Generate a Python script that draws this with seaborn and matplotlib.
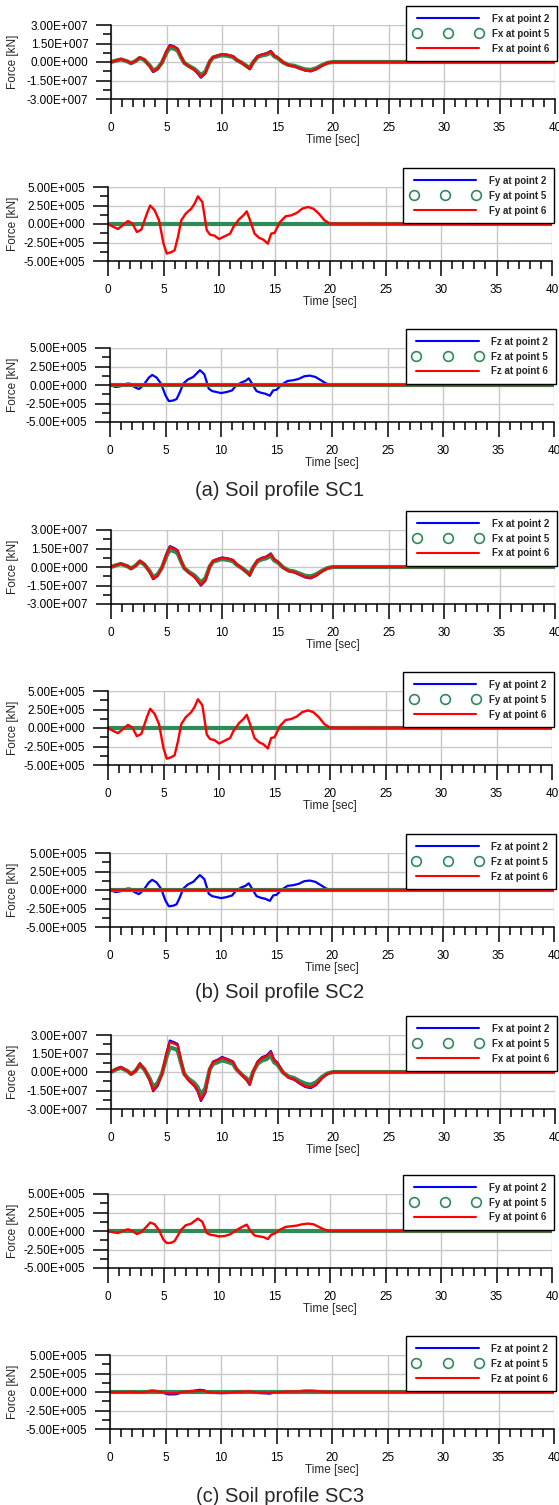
import matplotlib
matplotlib.use("Agg")
import matplotlib.pyplot as plt
import seaborn as sns
from matplotlib.ticker import MultipleLocator, FuncFormatter
from matplotlib.lines import Line2D
import numpy as np

# ---------------- data ----------------
T = [0.0, 0.5, 0.9, 1.5, 1.8, 2.2, 2.6, 3.0, 3.5, 3.8, 4.2, 4.6, 5.0, 5.3, 5.7,
     6.0, 6.3, 6.6, 7.0, 7.5, 7.8, 8.1, 8.5, 8.9, 9.2, 9.6, 10.0, 10.5, 11.0,
     11.3, 11.8, 12.2, 12.5, 12.8, 13.2, 13.6, 14.0, 14.4, 14.7, 15.0, 15.5,
     16.0, 16.5, 17.0, 17.5, 18.0, 18.5, 19.0, 19.5, 20.0, 40.0]

# Fx in units of 1e7 kN
FX_SC1_P2 = [0.00, 0.14, 0.25, 0.05, -0.12, 0.08, 0.39, 0.19, -0.36, -0.82, -0.59, -0.03, 0.90, 1.38, 1.26, 1.09, 0.47, -0.08, -0.36, -0.65, -0.93, -1.27, -0.93, 0.05, 0.42, 0.54, 0.64, 0.59, 0.47, 0.19, -0.08, -0.36, -0.59, -0.03, 0.47, 0.62, 0.70, 0.90, 0.54, 0.39, -0.03, -0.28, -0.36, -0.54, -0.70, -0.76, -0.59, -0.31, -0.08, 0.00, 0.00]
FX_SC1_P5 = [0.00, 0.12, 0.21, 0.04, -0.10, 0.07, 0.33, 0.17, -0.30, -0.69, -0.50, -0.03, 0.76, 1.15, 1.07, 0.93, 0.40, -0.07, -0.31, -0.55, -0.79, -1.06, -0.79, 0.04, 0.36, 0.46, 0.55, 0.50, 0.40, 0.17, -0.07, -0.31, -0.50, -0.03, 0.40, 0.53, 0.60, 0.77, 0.46, 0.33, -0.03, -0.24, -0.31, -0.46, -0.60, -0.64, -0.50, -0.26, -0.07, 0.00, 0.00]
FX_SC1_P6 = [0.00, 0.14, 0.24, 0.05, -0.11, 0.08, 0.38, 0.19, -0.35, -0.79, -0.57, -0.03, 0.87, 1.33, 1.22, 1.06, 0.46, -0.08, -0.35, -0.63, -0.90, -1.22, -0.90, 0.05, 0.41, 0.52, 0.62, 0.57, 0.46, 0.19, -0.08, -0.35, -0.57, -0.03, 0.46, 0.60, 0.68, 0.87, 0.52, 0.38, -0.03, -0.27, -0.35, -0.52, -0.68, -0.73, -0.57, -0.30, -0.08, 0.00, 0.00]

FX_SC2_P2 = [0.00, 0.18, 0.29, 0.06, -0.15, 0.10, 0.52, 0.25, -0.44, -0.99, -0.73, -0.04, 1.09, 1.69, 1.54, 1.35, 0.57, -0.10, -0.47, -0.81, -1.14, -1.51, -1.12, 0.06, 0.52, 0.66, 0.77, 0.71, 0.57, 0.24, -0.10, -0.44, -0.71, -0.04, 0.57, 0.75, 0.85, 1.10, 0.64, 0.47, -0.04, -0.34, -0.44, -0.64, -0.85, -0.92, -0.71, -0.37, -0.10, 0.00, 0.00]
FX_SC2_P5 = [0.00, 0.15, 0.24, 0.05, -0.12, 0.09, 0.43, 0.21, -0.36, -0.82, -0.60, -0.03, 0.90, 1.38, 1.27, 1.12, 0.47, -0.09, -0.39, -0.67, -0.95, -1.24, -0.93, 0.05, 0.43, 0.54, 0.64, 0.58, 0.47, 0.20, -0.09, -0.36, -0.58, -0.03, 0.47, 0.62, 0.71, 0.91, 0.53, 0.39, -0.03, -0.28, -0.36, -0.53, -0.71, -0.76, -0.58, -0.31, -0.09, 0.00, 0.00]
FX_SC2_P6 = [0.00, 0.17, 0.28, 0.06, -0.14, 0.10, 0.50, 0.24, -0.42, -0.95, -0.70, -0.04, 1.05, 1.62, 1.48, 1.30, 0.55, -0.10, -0.45, -0.78, -1.10, -1.45, -1.08, 0.06, 0.50, 0.63, 0.74, 0.68, 0.55, 0.23, -0.10, -0.42, -0.68, -0.04, 0.55, 0.72, 0.82, 1.06, 0.62, 0.45, -0.04, -0.33, -0.42, -0.62, -0.82, -0.88, -0.68, -0.36, -0.10, 0.00, 0.00]

FX_SC3_P2 = [0.00, 0.28, 0.42, 0.08, -0.20, 0.08, 0.71, 0.28, -0.71, -1.56, -1.13, -0.15, 1.56, 2.55, 2.41, 2.27, 1.00, -0.20, -0.71, -1.13, -1.56, -2.35, -1.70, 0.28, 0.85, 1.00, 1.22, 1.05, 0.85, 0.28, -0.28, -0.65, -1.05, 0.00, 0.85, 1.20, 1.33, 1.70, 1.00, 0.77, -0.05, -0.47, -0.63, -0.95, -1.21, -1.31, -1.05, -0.52, -0.16, 0.00, 0.00]
FX_SC3_P5 = [0.00, 0.22, 0.33, 0.07, -0.16, 0.07, 0.56, 0.22, -0.56, -1.22, -0.89, -0.11, 1.22, 1.99, 1.89, 1.77, 0.78, -0.16, -0.56, -0.89, -1.22, -1.84, -1.33, 0.22, 0.66, 0.78, 0.95, 0.82, 0.66, 0.22, -0.22, -0.51, -0.82, 0.00, 0.66, 0.93, 1.04, 1.33, 0.78, 0.60, -0.04, -0.37, -0.49, -0.74, -0.94, -1.03, -0.82, -0.41, -0.12, 0.00, 0.00]
FX_SC3_P6 = [0.00, 0.27, 0.40, 0.08, -0.19, 0.08, 0.68, 0.27, -0.68, -1.49, -1.08, -0.14, 1.49, 2.43, 2.30, 2.16, 0.95, -0.19, -0.68, -1.08, -1.49, -2.24, -1.62, 0.27, 0.81, 0.95, 1.16, 1.00, 0.81, 0.27, -0.27, -0.62, -1.00, 0.00, 0.81, 1.14, 1.27, 1.62, 0.95, 0.73, -0.05, -0.45, -0.60, -0.90, -1.15, -1.25, -1.00, -0.50, -0.15, 0.00, 0.00]

# Fy in units of 1e5 kN
FY_SC1_P2 = [0.0] * len(T)
FY_SC1_P5 = [0.0] * len(T)
FY_SC1_P6 = [0.00, -0.40, -0.68, 0.05, 0.40, 0.05, -1.08, -0.77, 1.40, 2.50, 1.85, 0.50, -2.66, -4.00, -3.80, -3.56, -1.76, 0.50, 1.40, 2.07, 2.75, 3.74, 2.97, -0.86, -1.44, -1.58, -2.03, -1.67, -1.30, -0.40, 0.63, 1.17, 1.71, 0.50, -1.30, -1.85, -2.12, -2.66, -1.30, -1.21, 0.27, 1.04, 1.17, 1.49, 2.07, 2.30, 2.07, 1.40, 0.50, 0.05, 0.00]

FY_SC2_P2 = [0.0] * len(T)
FY_SC2_P5 = [0.0] * len(T)
FY_SC2_P6 = [0.00, -0.42, -0.70, 0.05, 0.42, 0.05, -1.12, -0.80, 1.45, 2.60, 1.92, 0.52, -2.75, -4.15, -3.95, -3.68, -1.82, 0.52, 1.45, 2.14, 2.85, 3.88, 3.08, -0.89, -1.49, -1.64, -2.10, -1.73, -1.35, -0.41, 0.65, 1.21, 1.78, 0.52, -1.35, -1.92, -2.20, -2.76, -1.35, -1.25, 0.28, 1.08, 1.21, 1.55, 2.14, 2.38, 2.14, 1.45, 0.52, 0.05, 0.00]

FY_SC3_P2 = [0.0] * len(T)
FY_SC3_P5 = [0.0] * len(T)
FY_SC3_P6 = [0.00, -0.18, -0.27, 0.09, 0.23, 0.00, -0.41, -0.14, 0.64, 1.14, 0.91, 0.09, -1.18, -1.64, -1.59, -1.36, -0.59, 0.18, 0.77, 1.00, 1.36, 1.68, 1.23, -0.27, -0.50, -0.59, -0.73, -0.68, -0.45, -0.14, 0.32, 0.64, 0.86, 0.09, -0.59, -0.73, -0.82, -1.09, -0.50, -0.36, 0.18, 0.55, 0.64, 0.73, 0.91, 1.00, 0.91, 0.55, 0.18, 0.00, 0.00]

# Fz in units of 1e5 kN
FZ_SC1_P2 = [0.00, -0.27, -0.18, 0.18, 0.18, -0.27, -0.55, -0.05, 1.00, 1.36, 1.00, 0.18, -1.41, -2.18, -2.09, -1.90, -0.95, 0.18, 0.73, 1.09, 1.55, 2.00, 1.45, -0.50, -0.82, -0.95, -1.09, -0.95, -0.73, -0.18, 0.32, 0.55, 0.90, 0.18, -0.82, -1.05, -1.18, -1.45, -0.73, -0.64, 0.09, 0.55, 0.64, 0.82, 1.18, 1.27, 1.09, 0.64, 0.18, 0.00, 0.00]
FZ_SC1_P5 = [0.0] * len(T)
FZ_SC1_P6 = [0.0] * len(T)

FZ_SC2_P2 = [0.00, -0.28, -0.19, 0.18, 0.19, -0.28, -0.56, -0.05, 1.02, 1.38, 1.02, 0.18, -1.44, -2.20, -2.12, -1.93, -0.96, 0.18, 0.74, 1.10, 1.57, 2.02, 1.47, -0.51, -0.83, -0.96, -1.10, -0.96, -0.74, -0.18, 0.33, 0.56, 0.91, 0.18, -0.83, -1.06, -1.19, -1.47, -0.74, -0.65, 0.09, 0.56, 0.65, 0.83, 1.19, 1.28, 1.10, 0.65, 0.18, 0.00, 0.00]
FZ_SC2_P5 = [0.0] * len(T)
FZ_SC2_P6 = [0.0] * len(T)

FZ_SC3_P2 = [0.00, -0.04, -0.03, 0.03, 0.03, -0.04, -0.08, -0.01, 0.15, 0.20, 0.15, 0.03, -0.21, -0.33, -0.32, -0.29, -0.14, 0.03, 0.11, 0.16, 0.23, 0.30, 0.22, -0.08, -0.12, -0.14, -0.16, -0.14, -0.11, -0.03, 0.05, 0.08, 0.14, 0.03, -0.12, -0.16, -0.18, -0.22, -0.11, -0.10, 0.01, 0.08, 0.10, 0.12, 0.18, 0.19, 0.16, 0.10, 0.03, 0.00, 0.00]
FZ_SC3_P5 = [0.0] * len(T)
FZ_SC3_P6 = [0.00, -0.02, -0.03, 0.00, 0.02, 0.00, -0.05, -0.02, 0.07, 0.12, 0.09, 0.02, -0.13, -0.18, -0.17, -0.16, -0.08, 0.02, 0.07, 0.10, 0.14, 0.19, 0.15, -0.04, -0.07, -0.08, -0.10, -0.08, -0.06, -0.02, 0.03, 0.06, 0.08, 0.02, -0.06, -0.09, -0.10, -0.13, -0.06, -0.06, 0.01, 0.05, 0.06, 0.07, 0.10, 0.11, 0.10, 0.07, 0.02, 0.00, 0.00]

COMPONENTS = ["Fx", "Fy", "Fz", "Fx", "Fy", "Fz", "Fx", "Fy", "Fz"]
SERIES = [
    (FX_SC1_P2, FX_SC1_P5, FX_SC1_P6), (FY_SC1_P2, FY_SC1_P5, FY_SC1_P6), (FZ_SC1_P2, FZ_SC1_P5, FZ_SC1_P6),
    (FX_SC2_P2, FX_SC2_P5, FX_SC2_P6), (FY_SC2_P2, FY_SC2_P5, FY_SC2_P6), (FZ_SC2_P2, FZ_SC2_P5, FZ_SC2_P6),
    (FX_SC3_P2, FX_SC3_P5, FX_SC3_P6), (FY_SC3_P2, FY_SC3_P5, FY_SC3_P6), (FZ_SC3_P2, FZ_SC3_P5, FZ_SC3_P6),
]
UNIT = {"Fx": 1e7, "Fy": 1e5, "Fz": 1e5}
YLIM = {"Fx": 3e7, "Fy": 5e5, "Fz": 5e5}
POINTS = ["2", "5", "6"]
CAPTIONS = ["(a) Soil profile SC1", "(b) Soil profile SC2", "(c) Soil profile SC3"]

# ---------------- layout / style ----------------
W, H = 559, 1505
TOPS = [25, 187, 348, 530, 691, 853, 1035, 1194, 1355]
LEFTS = [111, 108, 110, 111, 108, 110, 111, 108, 110]
AX_W, AX_H = 444, 74
CAP_Y = [490, 992, 1496]
BLUE, GREEN, RED = "#0000FF", "#2E8B57", "#FF0000"

sns.set_style("white")
plt.rcParams["font.family"] = ["Liberation Sans", "DejaVu Sans"]


def sci_fmt(v, pos):
    if abs(v) < 1e-9:
        return "0.00E+000"
    e = int(np.floor(np.log10(abs(v)) + 1e-9))
    m = v / 10 ** e
    return f"{m:.2f}E{'+' if e >= 0 else '-'}{abs(e):03d}"


fig = plt.figure(figsize=(W / 100, H / 100), dpi=100)

for i, (comp, (s2, s5, s6)) in enumerate(zip(COMPONENTS, SERIES)):
    left, top = LEFTS[i], TOPS[i]
    ax = fig.add_axes([left / W, 1 - (top + AX_H) / H, AX_W / W, AX_H / H])
    u = UNIT[comp]
    sns.lineplot(x=T, y=[v * u for v in s2], ax=ax, color=BLUE, lw=1.6,
                 estimator=None, sort=False, legend=False)
    sns.lineplot(x=T, y=[v * u for v in s5], ax=ax, color=GREEN, lw=3.0,
                 estimator=None, sort=False, legend=False)
    sns.lineplot(x=T, y=[v * u for v in s6], ax=ax, color=RED, lw=1.7,
                 estimator=None, sort=False, legend=False)

    lim = YLIM[comp]
    ax.set_xlim(0, 40)
    ax.set_ylim(-lim, lim)
    ax.xaxis.set_major_locator(MultipleLocator(5))
    ax.xaxis.set_minor_locator(MultipleLocator(1))
    ax.yaxis.set_major_locator(MultipleLocator(lim / 2))
    ax.yaxis.set_minor_locator(MultipleLocator(lim / 4))
    ax.yaxis.set_major_formatter(FuncFormatter(sci_fmt))
    ax.grid(True, which="major", color="#c8c8c8", lw=1.0)
    ax.set_axisbelow(True)
    for sp in ["top", "right"]:
        ax.spines[sp].set_visible(False)
    for sp in ["left", "bottom"]:
        ax.spines[sp].set_color("black")
        ax.spines[sp].set_linewidth(1.1)
    ax.tick_params(which="both", bottom=True, left=True, top=False, right=False)
    ax.tick_params(which="major", direction="out", length=10.8, width=1.1,
                   color="black", labelsize=8.5, labelcolor="black")
    ax.tick_params(which="minor", direction="out", length=5.5, width=1.1,
                   color="black")
    ax.tick_params(axis="y", which="major", pad=5.5)
    ax.tick_params(axis="x", which="major", pad=5.5)
    ax.set_xlabel("Time [sec]", fontsize=8.5, labelpad=0)
    ax.set_ylabel("Force [kN]", fontsize=8.5)
    ax.yaxis.set_label_coords((19 - left) / AX_W, 0.5)

    handles = [
        Line2D([], [], color=BLUE, lw=1.5),
        Line2D([], [], ls="none", marker="o", ms=7, mfc="none", mec=GREEN, mew=1.2),
        Line2D([], [], color=RED, lw=1.5),
    ]
    labels = [f"{comp} at point {p}" for p in POINTS]
    leg = ax.legend(handles, labels, loc="upper right",
                    bbox_to_anchor=((left + AX_W + 2) / W, 1 - (top - 19) / H),
                    bbox_transform=fig.transFigure, frameon=True, fancybox=False,
                    edgecolor="black", framealpha=1, numpoints=3,
                    prop={"weight": "bold", "size": 7}, handlelength=7.0,
                    handletextpad=1.0, labelspacing=0.5, borderpad=0.8,
                    borderaxespad=0)
    leg.get_frame().set_linewidth(1.0)

for cap, cy in zip(CAPTIONS, CAP_Y):
    fig.text(280 / W, 1 - cy / H, cap, ha="center", va="center", fontsize=14.5)

fig.savefig("out.png", dpi=100)
